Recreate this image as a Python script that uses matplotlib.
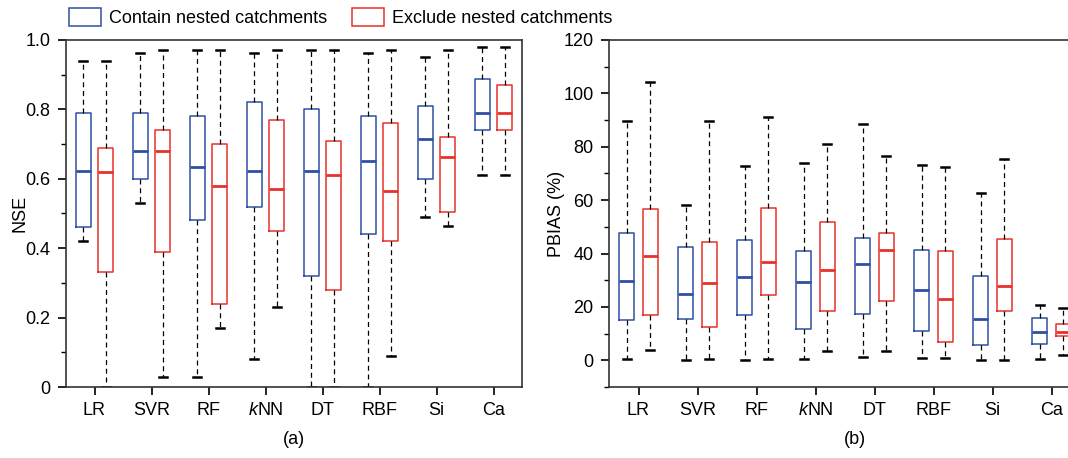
import matplotlib
matplotlib.use("Agg")
import matplotlib.pyplot as plt
from matplotlib.patches import Patch
from matplotlib.ticker import MultipleLocator, FuncFormatter

plt.rcParams["font.family"] = ["Liberation Sans", "DejaVu Sans"]
plt.rcParams["mathtext.fontset"] = "custom"
plt.rcParams["mathtext.it"] = "Liberation Sans:italic"

methods = ["LR", "SVR", "RF", r"$\it{k}$NN", "DT", "RBF", "Si", "Ca"]

# NSE (a): whislo, q1, median, q3, whishi
nse_contain_lo = [0.42, 0.53, 0.03, 0.08, 0.00, 0.00, 0.49, 0.61]
nse_contain_q1 = [0.46, 0.60, 0.48, 0.52, 0.32, 0.44, 0.60, 0.74]
nse_contain_med = [0.623, 0.68, 0.635, 0.623, 0.623, 0.65, 0.714, 0.79]
nse_contain_q3 = [0.79, 0.79, 0.78, 0.82, 0.80, 0.78, 0.81, 0.888]
nse_contain_hi = [0.94, 0.962, 0.97, 0.962, 0.97, 0.962, 0.95, 0.98]

nse_exclude_lo = [0.00, 0.03, 0.17, 0.23, 0.00, 0.09, 0.465, 0.61]
nse_exclude_q1 = [0.33, 0.39, 0.24, 0.45, 0.28, 0.42, 0.505, 0.74]
nse_exclude_med = [0.62, 0.68, 0.58, 0.57, 0.61, 0.565, 0.663, 0.79]
nse_exclude_q3 = [0.69, 0.74, 0.70, 0.77, 0.71, 0.76, 0.72, 0.87]
nse_exclude_hi = [0.94, 0.97, 0.97, 0.97, 0.97, 0.97, 0.97, 0.98]

# PBIAS (b), in %
pb_contain_lo = [0.5, 0.0, 0.3, 0.5, 1.1, 1.0, 0.0, 0.5]
pb_contain_q1 = [15.0, 15.6, 17.0, 11.9, 17.4, 11.1, 5.8, 6.0]
pb_contain_med = [29.6, 25.0, 31.3, 29.2, 36.2, 26.2, 15.6, 10.5]
pb_contain_q3 = [47.7, 42.6, 44.9, 40.8, 46.0, 41.4, 31.6, 15.9]
pb_contain_hi = [89.6, 58.2, 72.7, 73.9, 88.7, 73.0, 62.5, 20.9]

pb_exclude_lo = [3.8, 0.5, 0.5, 3.5, 3.3, 1.0, 0.0, 2.0]
pb_exclude_q1 = [17.0, 12.5, 24.4, 18.3, 22.2, 6.7, 18.3, 9.0]
pb_exclude_med = [38.9, 28.8, 36.8, 33.7, 41.5, 23.0, 28.0, 10.6]
pb_exclude_q3 = [56.8, 44.3, 57.2, 51.8, 47.6, 41.0, 45.4, 13.6]
pb_exclude_hi = [104.1, 89.6, 91.2, 81.0, 76.6, 72.4, 75.4, 19.7]

BLUE = "#2f4fa2"
RED = "#e8312b"


def make_stats(lo, q1, med, q3, hi):
    return [
        {"whislo": a, "q1": b, "med": c, "q3": d, "whishi": e, "fliers": []}
        for a, b, c, d, e in zip(lo, q1, med, q3, hi)
    ]


def draw_group(ax, stats, color, shift):
    pos = [i + 1 + shift for i in range(len(stats))]
    ax.bxp(
        stats,
        positions=pos,
        widths=0.26,
        capwidths=0.14,
        showfliers=False,
        patch_artist=False,
        boxprops={"color": color, "linewidth": 1.1},
        medianprops={"color": color, "linewidth": 2.0},
        whiskerprops={"color": "black", "linewidth": 0.9, "linestyle": (0, (4, 3))},
        capprops={"color": "black", "linewidth": 1.8},
    )


def style_axes(ax):
    ax.set_xlim(0.5, 8.5)
    ax.set_xticks(range(1, 9))
    ax.set_xticklabels(methods)
    ax.tick_params(axis="both", which="major", direction="out", length=6,
                   width=1.2, labelsize=13, pad=5)
    ax.tick_params(axis="y", which="minor", direction="out", length=3.5, width=1.0)
    ax.tick_params(axis="x", which="minor", bottom=False)
    for sp in ax.spines.values():
        sp.set_linewidth(1.2)
        sp.set_color("#333333")


fig = plt.figure(figsize=(10.68, 4.58), dpi=100)
ax1 = fig.add_axes([66 / 1068, 71 / 458, 456 / 1068, 347 / 458])
ax2 = fig.add_axes([609 / 1068, 71 / 458, 472 / 1068, 347 / 458])

draw_group(ax1, make_stats(nse_contain_lo, nse_contain_q1, nse_contain_med,
                           nse_contain_q3, nse_contain_hi), BLUE, -0.2)
draw_group(ax1, make_stats(nse_exclude_lo, nse_exclude_q1, nse_exclude_med,
                           nse_exclude_q3, nse_exclude_hi), RED, 0.2)
style_axes(ax1)
ax1.set_ylim(0, 1.0)
ax1.yaxis.set_major_locator(MultipleLocator(0.2))
ax1.yaxis.set_minor_locator(MultipleLocator(0.1))
ax1.yaxis.set_major_formatter(FuncFormatter(lambda v, p: "0" if abs(v) < 1e-9 else f"{v:.1f}"))
ax1.set_ylabel("NSE", fontsize=13)
ax1.yaxis.set_label_coords(-38 / 456, 0.5)
ax1.text(0.5, -53 / 347, "(a)", transform=ax1.transAxes, ha="center", va="center", fontsize=13)

draw_group(ax2, make_stats(pb_contain_lo, pb_contain_q1, pb_contain_med,
                           pb_contain_q3, pb_contain_hi), BLUE, -0.2)
draw_group(ax2, make_stats(pb_exclude_lo, pb_exclude_q1, pb_exclude_med,
                           pb_exclude_q3, pb_exclude_hi), RED, 0.2)
style_axes(ax2)
ax2.set_ylim(-10, 120)
ax2.set_yticks(range(0, 121, 20))
ax2.yaxis.set_minor_locator(MultipleLocator(10))
ax2.set_ylabel("PBIAS (%)", fontsize=13)
ax2.yaxis.set_label_coords(-44 / 472, 0.5)
ax2.text(246 / 472, -53 / 347, "(b)", transform=ax2.transAxes, ha="center", va="center", fontsize=13)

handles = [
    Patch(facecolor="none", edgecolor=BLUE, linewidth=1.1, label="Contain nested catchments"),
    Patch(facecolor="none", edgecolor=RED, linewidth=1.1, label="Exclude nested catchments"),
]
fig.legend(handles=handles, loc="upper left", bbox_to_anchor=(53 / 1068, 1.017),
           ncol=2, frameon=False, fontsize=13, handlelength=1.75, handleheight=1.1,
           handletextpad=0.45, columnspacing=1.4)

fig.savefig("out.png", dpi=100)
